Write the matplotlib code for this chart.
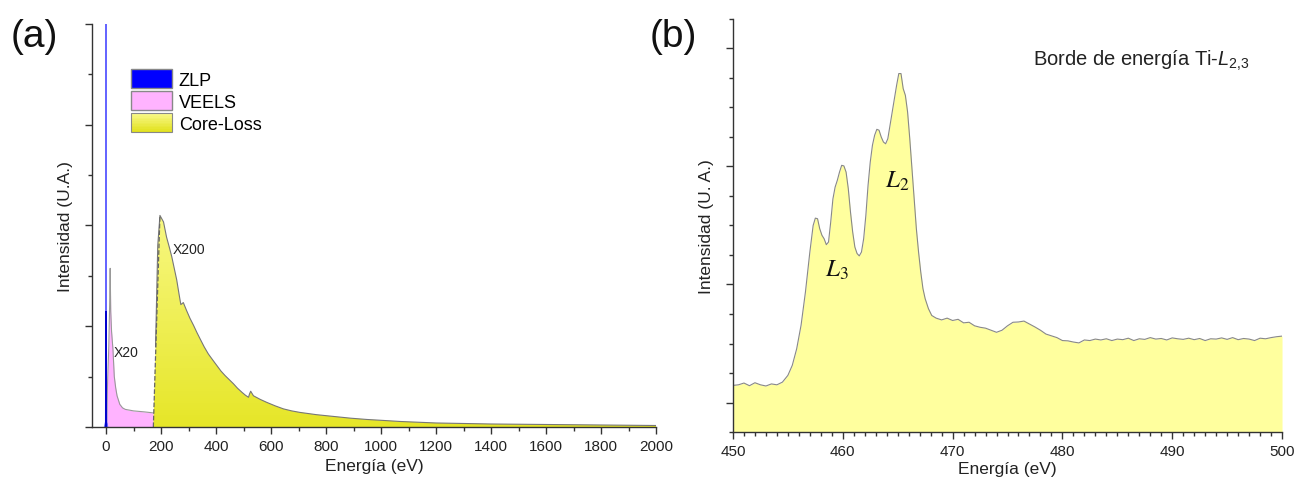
import numpy as np
import matplotlib
matplotlib.use('Agg')
import matplotlib.pyplot as plt
from matplotlib.patches import Patch, Rectangle
from matplotlib.legend_handler import HandlerBase
from matplotlib.ticker import MultipleLocator, FixedLocator, NullFormatter

plt.rcParams['font.family'] = ['Liberation Sans', 'DejaVu Sans']
plt.rcParams['mathtext.fontset'] = 'custom'
plt.rcParams['mathtext.rm'] = 'Liberation Sans'
plt.rcParams['mathtext.it'] = 'Liberation Sans:italic'

# (a) espectro EELS completo (unidades arbitrarias)
zlp_e = [-6, -2, -1, 0, 1, 2, 6]
zlp_i = [0, 0.1, 2.3, 8.0, 2.3, 0.1, 0]

veels_e = [2, 5, 10, 13, 15, 17, 20, 25, 30, 35, 40, 50, 60, 70, 100, 140, 172]
veels_i = [0, 0.8, 1.6, 2.4, 3.15, 2.3, 1.9, 1.55, 1.0, 0.78, 0.62, 0.45, 0.38, 0.35, 0.32, 0.30, 0.28]

core_e = [172, 180, 188, 196, 209, 220, 230, 239, 248, 257, 266, 272, 281, 293, 305, 318, 330,
          342, 357, 372, 388, 403, 418, 433, 448, 463, 478, 494, 507, 518, 522, 526, 536, 560,
          584, 615, 645, 675, 705, 765, 827, 890, 948, 1010, 1069, 1200, 1400, 1600, 1800, 2000]
core_i = [0.0, 1.6, 3.6, 4.2, 4.07, 3.77, 3.57, 3.38, 3.15, 2.92, 2.62, 2.43, 2.47, 2.31, 2.16,
          2.02, 1.88, 1.75, 1.59, 1.45, 1.33, 1.22, 1.11, 1.02, 0.94, 0.86, 0.77, 0.69, 0.63,
          0.59, 0.66, 0.71, 0.62, 0.55, 0.49, 0.42, 0.36, 0.32, 0.29, 0.245, 0.21, 0.175, 0.15,
          0.13, 0.11, 0.08, 0.06, 0.05, 0.04, 0.03]

# (b) borde Ti-L2,3
ti_e = [450, 450.5, 451, 451.5, 452, 452.5, 453, 453.5, 454, 454.5, 455.0, 455.4, 455.8, 456.2,
        456.6, 457.0, 457.3, 457.5, 457.7, 457.9, 458.1, 458.3, 458.5, 458.7, 458.9, 459.1,
        459.3, 459.5, 459.7, 459.9, 460.1, 460.3, 460.5, 460.7, 460.9, 461.1, 461.3, 461.5,
        461.7, 461.9, 462.1, 462.3, 462.5, 462.7, 462.9, 463.1, 463.3, 463.5, 463.7, 463.9,
        464.1, 464.3, 464.5, 464.7, 464.9, 465.1, 465.3, 465.5, 465.7, 465.9, 466.1, 466.3,
        466.5, 466.7, 466.9, 467.1, 467.3, 467.5, 467.8, 468.1, 468.5, 469, 469.5, 470, 470.5,
        471, 471.5, 472, 472.5, 473, 473.5, 474, 474.5, 475, 475.5, 476, 476.5, 477, 477.5,
        478, 478.5, 479, 479.5, 480, 480.5, 481, 481.5, 482, 482.5, 483, 483.5, 484, 484.5,
        485, 485.5, 486, 486.5, 487, 487.5, 488, 488.5, 489, 489.5, 490, 490.5, 491, 491.5,
        492, 492.5, 493, 493.5, 494, 494.5, 495, 495.5, 496, 496.5, 497, 497.5, 498, 498.5,
        499, 499.5, 500]
ti_i = [1.58, 1.6, 1.66, 1.57, 1.67, 1.6, 1.56, 1.63, 1.6, 1.69, 1.92, 2.26, 2.82, 3.62,
        4.75, 6.1, 7.0, 7.25, 7.23, 6.89, 6.67, 6.55, 6.35, 6.44, 7.12, 7.9,
        8.3, 8.53, 8.81, 9.04, 9.02, 8.81, 8.25, 7.46, 6.78, 6.27, 6.05, 5.97,
        6.1, 6.55, 7.34, 8.36, 9.15, 9.72, 10.06, 10.26, 10.23, 10.0, 9.83, 9.77,
        9.94, 10.4, 10.85, 11.3, 11.75, 12.15, 12.15, 11.64, 11.41, 10.85, 9.94, 8.93,
        7.9, 6.89, 6.1, 5.42, 4.86, 4.52, 4.18, 3.95, 3.86, 3.8, 3.86, 3.78, 3.82,
        3.7, 3.72, 3.6, 3.55, 3.52, 3.45, 3.38, 3.45, 3.6, 3.72, 3.73, 3.76, 3.66, 3.56,
        3.45, 3.32, 3.26, 3.2, 3.1, 3.09, 3.05, 3.02, 3.12, 3.1, 3.15, 3.12, 3.16, 3.1,
        3.15, 3.13, 3.18, 3.1, 3.16, 3.14, 3.2, 3.15, 3.17, 3.12, 3.19, 3.16, 3.14,
        3.18, 3.13, 3.17, 3.1, 3.16, 3.15, 3.19, 3.14, 3.2, 3.13, 3.17, 3.15, 3.1,
        3.18, 3.16, 3.2, 3.23, 3.25]

txt = '#222222'
spine_c = '#333333'


class GradHandler(HandlerBase):
    def create_artists(self, legend, orig_handle, xd, yd, w, h, fontsize, trans):
        arts = []
        n = 12
        top = np.array([0.98, 0.98, 0.55])
        bot = np.array([0.88, 0.88, 0.10])
        for k in range(n):
            c = bot + (top - bot) * (k + 0.5) / n
            arts.append(Rectangle((-xd, -yd + h * k / n), w, h / n + 0.2, facecolor=c,
                                  edgecolor='none', transform=trans))
        arts.append(Rectangle((-xd, -yd), w, h, facecolor='none', edgecolor='#888888',
                              lw=0.8, transform=trans))
        return arts


fig = plt.figure(figsize=(12.98, 4.85), dpi=100)
ax1 = fig.add_axes([0.0709, 0.1175, 0.4345, 0.8310])
ax2 = fig.add_axes([0.5647, 0.1072, 0.4230, 0.8516])

# ---- panel (a)
ax1.fill_between(veels_e, veels_i, color='#ffb3ff', lw=0)
ax1.plot(veels_e, veels_i, color='#999999', lw=0.8)
ax1.fill_between(zlp_e, zlp_i, color='#0000ff', lw=0)
ax1.plot(zlp_e, zlp_i, color='#6666ff', lw=0.8)
# parte intensa del ZLP (mas oscura)
ax1.vlines(zlp_e[3], 0, zlp_i[2], color='#0000cc', lw=1.4)

poly = ax1.fill_between(core_e, core_i, color='none', lw=0)
grad = np.linspace(0, 1, 256).reshape(-1, 1)
cmap = matplotlib.colors.LinearSegmentedColormap.from_list('y', ['#e6e628', '#f8f882'])
im = ax1.imshow(grad, extent=[core_e[0], core_e[-1], 0, max(core_i)], origin='lower',
                aspect='auto', cmap=cmap, zorder=1)
im.set_clip_path(poly.get_paths()[0], transform=ax1.transData)
ax1.plot(core_e[1:], core_i[1:], color='#777777', lw=0.8, zorder=2)
ax1.plot([core_e[0], core_e[3]], [core_i[0], core_i[3]], color='#666666', lw=0.9, ls='--',
         zorder=2)

ax1.set_xlim(-51, 2000)
ax1.set_ylim(0, 8.0)
ax1.xaxis.set_major_locator(MultipleLocator(200))
ax1.xaxis.set_minor_locator(MultipleLocator(100))
ax1.yaxis.set_major_locator(MultipleLocator(2))
ax1.yaxis.set_minor_locator(MultipleLocator(1))
ax1.yaxis.set_major_formatter(NullFormatter())

ax1.text(27, 1.4, 'X20', fontsize=10, color=txt)
ax1.text(243, 3.45, 'X200', fontsize=10, color=txt)

handles = [Patch(facecolor='#0000ff', edgecolor='#888888'),
           Patch(facecolor='#ffb3ff', edgecolor='#888888'),
           Patch(facecolor='#eeee55', edgecolor='#888888')]
ax1.legend(handles, ['ZLP', 'VEELS', 'Core-Loss'], loc='upper left',
           bbox_to_anchor=(0.069, 0.888), frameon=False, fontsize=13,
           handlelength=2.3, handleheight=1.25, handletextpad=0.35,
           labelspacing=0.13, borderpad=0, borderaxespad=0,
           handler_map={handles[2]: GradHandler()})

ax1.set_xlabel('Energía (eV)', fontsize=12.5, color=txt, labelpad=4)
ax1.set_ylabel('Intensidad (U.A.)', fontsize=12.5, color=txt, labelpad=5)

# ---- panel (b)
ax2.fill_between(ti_e, ti_i, color='#ffff9e', lw=0)
ax2.plot(ti_e, ti_i, color='#888888', lw=0.8)
ax2.set_xlim(450, 500)
ax2.set_ylim(0, 14)
ax2.xaxis.set_major_locator(MultipleLocator(10))
ax2.xaxis.set_minor_locator(MultipleLocator(1))
ax2.yaxis.set_major_locator(FixedLocator([1, 5, 9, 13]))
ax2.yaxis.set_minor_locator(MultipleLocator(1))
ax2.yaxis.set_major_formatter(NullFormatter())

ax2.text(477.3, 12.6, 'Borde de energía Ti-$L_{2{,}3}$', fontsize=14.5, color=txt,
         ha='left', va='center')
ax2.text(458.4, 5.3, '$L_3$', fontsize=18, color='#111111', math_fontfamily='stix')
ax2.text(463.8, 8.3, '$L_2$', fontsize=18, color='#111111', math_fontfamily='stix')

ax2.set_xlabel('Energía (eV)', fontsize=12.5, color=txt, labelpad=2)
ax2.set_ylabel('Intensidad (U. A.)', fontsize=12.5, color=txt, labelpad=5)

for ax in (ax1, ax2):
    for s in ('top', 'right'):
        ax.spines[s].set_visible(False)
    for s in ('left', 'bottom'):
        ax.spines[s].set_color(spine_c)
        ax.spines[s].set_linewidth(1.0)
    ax.tick_params(which='major', direction='out', length=5, width=1, color=spine_c,
                   labelsize=11, labelcolor=txt)
    ax.tick_params(which='minor', direction='out', length=3, width=1, color=spine_c)

fig.text(34 / 1298, 1 - 37 / 485, '(a)', fontsize=28, ha='center', va='center', color='#111111')
fig.text(673 / 1298, 1 - 37 / 485, '(b)', fontsize=28, ha='center', va='center', color='#111111')

fig.savefig('out.png', dpi=100)
